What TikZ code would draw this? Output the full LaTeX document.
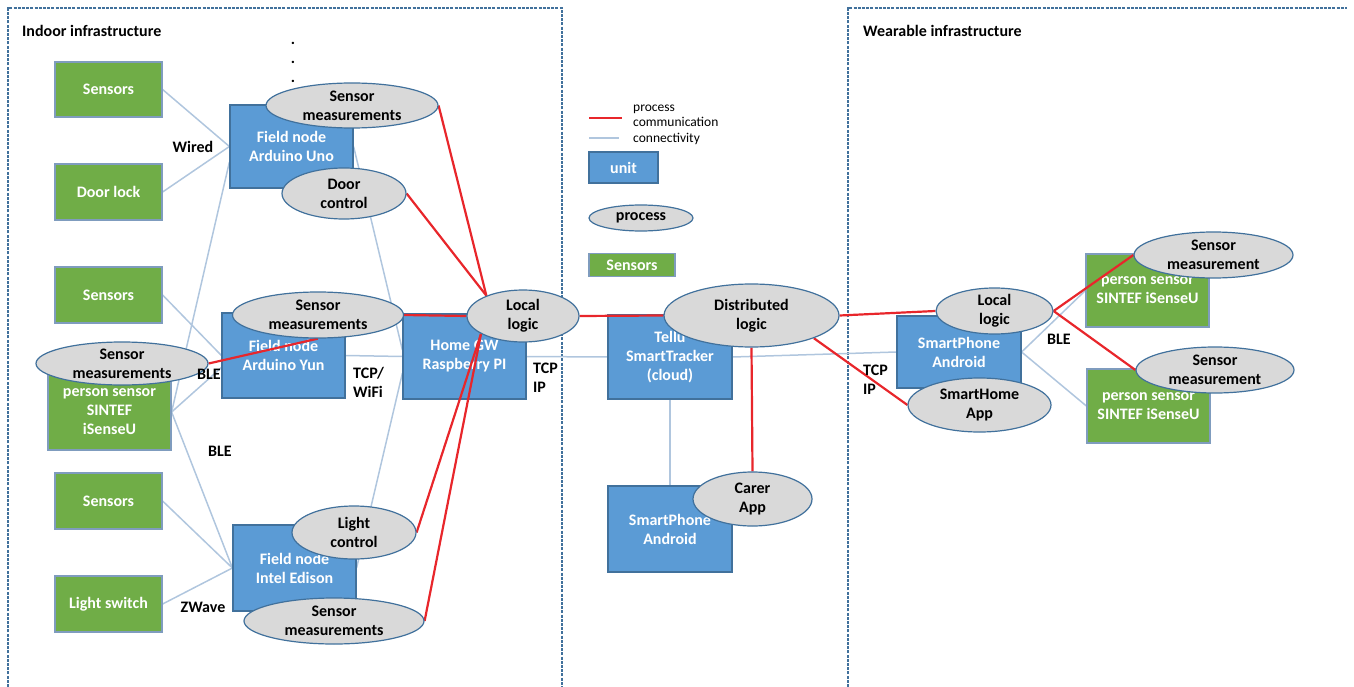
\documentclass[tikz,border=0pt]{standalone}
\usepackage{fontspec}
\setmainfont{Carlito}
\usetikzlibrary{shapes.geometric}
\pgfdeclarelayer{bg}
\pgfdeclarelayer{rlayer}
\pgfdeclarelayer{top}
\pgfsetlayers{bg,main,rlayer,top}
\definecolor{ublue}{HTML}{5B9BD5}
\definecolor{ubdr}{HTML}{41719C}
\definecolor{gbdr}{HTML}{7F9CBE}
\definecolor{sgreen}{HTML}{70AD47}
\definecolor{pgray}{HTML}{D9D9D9}
\definecolor{redc}{HTML}{E8262B}
\definecolor{connc}{HTML}{B0C6DE}
\definecolor{framec}{HTML}{41719C}
\newcommand\myNF{\fontsize{16}{19}\selectfont\bfseries}
\newcommand\myLF{\fontsize{13.5}{15.5}\selectfont}
\tikzset{
  frameline/.style={draw=framec, line width=1.1pt, dash pattern=on 3pt off 1.2pt},
  unitbox/.style={rectangle, draw=ubdr, fill=ublue, line width=1.2pt, text=white, font=\myNF, align=center, inner sep=0pt},
  sensbox/.style={rectangle, draw=gbdr, fill=sgreen, line width=1.2pt, text=white, font=\myNF, align=center, inner sep=0pt},
  proc/.style={ellipse, draw=ubdr, fill=pgray, line width=1.2pt, inner sep=0pt},
  ptext/.style={font=\myNF, align=center, text=black, inner sep=0pt},
  lbl/.style={font=\myNF, align=left, inner sep=0pt, text=black},
  comm/.style={draw=redc, line width=2.2pt},
  connl/.style={draw=connc, line width=1.5pt},
}
\begin{document}
\begin{tikzpicture}[x=1pt,y=-1pt]
\useasboundingbox (0,0) rectangle (1354,687);
% frames
\begin{pgfonlayer}{bg}
\draw[frameline] (8,687) -- (8,8) -- (562,8) -- (562,687);
\draw[frameline] (848,687) -- (848,8) -- (1347,8);
\end{pgfonlayer}
% green sensor boxes
\node[sensbox, minimum width=107pt, minimum height=55pt] (s1) at (108.5,89.5) {Sensors};
\node[sensbox, minimum width=107pt, minimum height=56pt] (door) at (108.5,192) {Door lock};
\node[sensbox, minimum width=107pt, minimum height=56pt] (s2) at (108.5,295) {Sensors};
\node[sensbox, minimum width=123pt, minimum height=76pt] (ps) at (109.5,412) {person sensor\\SINTEF\\iSenseU};
\node[sensbox, minimum width=107pt, minimum height=56pt] (s3) at (108.5,501) {Sensors};
\node[sensbox, minimum width=107pt, minimum height=56pt] (ls) at (108.5,604) {Light switch};
\node[sensbox, minimum width=123pt, minimum height=73pt] (r1) at (1147.5,290.5) {person sensor\\SINTEF iSenseU};
\node[sensbox, minimum width=123pt, minimum height=74pt] (r2) at (1148.5,406) {person sensor\\SINTEF iSenseU};
\node[sensbox, minimum width=86pt, minimum height=23pt] (legsens) at (632,265) {Sensors};
% blue unit boxes
\node[unitbox, minimum width=123pt, minimum height=83pt] (uno) at (291.5,146.5) {Field node\\Arduino Uno};
\node[unitbox, minimum width=123pt, minimum height=85pt] (yun) at (283.5,355.5) {Field node\\Arduino Yun};
\node[unitbox, minimum width=123pt, minimum height=85pt] (gw) at (464.5,356.5) {Home GW\\Raspberry PI};
\node[unitbox, minimum width=123pt, minimum height=86pt] (edison) at (294.5,568) {Field node\\Intel Edison};
\node[unitbox, minimum width=124pt, minimum height=84pt] (tellu) at (670,357) {Tellu\\SmartTracker\\(cloud)};
\node[unitbox, minimum width=124pt, minimum height=86pt] (sp2) at (670,529) {SmartPhone\\Android};
\node[unitbox, minimum width=124pt, minimum height=72pt] (phone) at (959,352) {SmartPhone\\Android};
\node[unitbox, minimum width=69pt, minimum height=31pt] (legunit) at (623.5,167.5) {unit};
% process ellipses
\begin{pgfonlayer}{top}
\node[proc, minimum width=172pt, minimum height=45pt, label={[ptext]center:{Sensor\\measurements}}] (unosm) at (352,105.5) {};
\node[proc, minimum width=124pt, minimum height=51pt, label={[ptext]center:{Door\\control}}] (doorc) at (344,193.5) {};
\node[proc, minimum width=171pt, minimum height=46pt, label={[ptext]center:{Sensor\\measurements}}] (yunsm) at (318,315) {};
\node[proc, minimum width=172pt, minimum height=43pt, label={[ptext]center:{Sensor\\measurements}}] (psm) at (122,363.5) {};
\node[proc, minimum width=112pt, minimum height=52pt, label={[ptext]center:{Local\\logic}}] (llgw) at (523,316) {};
\node[proc, minimum width=124pt, minimum height=53pt, label={[ptext]center:{Light\\control}}] (lightc) at (354,532.5) {};
\node[proc, minimum width=180pt, minimum height=46pt, label={[ptext]center:{Sensor\\measurements}}] (edsm) at (334,621) {};
\node[proc, minimum width=175pt, minimum height=63pt, label={[ptext]center:{Distributed\\logic}}] (dlog) at (751.5,315.5) {};
\node[proc, minimum width=119pt, minimum height=54pt, label={[ptext]center:{Carer\\App}}] (carer) at (752.5,499) {};
\node[proc, minimum width=117pt, minimum height=46pt, label={[ptext]center:{Local\\logic}}] (llph) at (994.5,311) {};
\node[proc, minimum width=143pt, minimum height=54pt, label={[ptext]center:{SmartHome\\App}}] (shapp) at (979.5,405) {};
\node[proc, minimum width=159pt, minimum height=46pt, label={[ptext]center:{Sensor\\measurement}}] (rsm1) at (1213.5,255) {};
\node[proc, minimum width=158pt, minimum height=46pt, label={[ptext]center:{Sensor\\measurement}}] (rsm2) at (1215,370) {};
\node[proc, minimum width=104pt, minimum height=26pt, label={[ptext]center:{process}}] (legproc) at (641,218) {};
% labels
\node[lbl, anchor=west] (t1) at (22,31) {Indoor infrastructure};
\node[lbl, anchor=west] (t2) at (863,31) {Wearable infrastructure};
\node[lbl, align=center] (dots) at (293,62) {.\\.\\.};
\node[lbl] (wired) at (193,147) {Wired};
\node[lbl] (ble1) at (209,374) {BLE};
\node[lbl, anchor=west] (tcpwifi) at (353,382) {TCP/\\WiFi};
\node[lbl, anchor=west] (tcpip1) at (533,378) {TCP\\IP};
\node[lbl] (ble2) at (220,451) {BLE};
\node[lbl] (zwave) at (203,607) {ZWave};
\node[lbl, anchor=west] (tcpip2) at (863,380) {TCP\\IP};
\node[lbl] (ble3) at (1059,339) {BLE};
\node[font=\myLF, align=left, inner sep=0pt, anchor=west] (legtext) at (633,124.5) {process\\communication\\connectivity};
\end{pgfonlayer}
\coordinate (lr1) at (589,118);
\coordinate (lr2) at (622,118);
\coordinate (lg1) at (589,138);
\coordinate (lg2) at (619,138);
% connectivity lines
\begin{pgfonlayer}{bg}
\draw[connl] (s1.east) -- (uno.west);
\draw[connl] (door.east) -- (uno.west);
\draw[connl] (uno.194) -- (ps.east);
\draw[connl] (s2.east) -- (yun.west);
\draw[connl] (ps.east) -- (yun.191);
\draw[connl] (ps.east) -- (edison.west);
\draw[connl] (s3.east) -- (edison.west);
\draw[connl] (ls.east) -- (edison.west);
\draw[connl] (yun.east) -- (gw.west);
\draw[connl] (uno.east) -- (gw.174);
\draw[connl] (edison.east) -- (gw.195);
\draw[connl] (gw.east) -- (tellu.west);
\draw[connl] (tellu.east) -- (phone.west);
\draw[connl] (tellu.south) -- (sp2.north);
\draw[connl] (phone.east) -- (r1.west);
\draw[connl] (phone.east) -- (r2.west);
\draw[connl] (lg1) -- (lg2);
\end{pgfonlayer}
% process communication lines
\begin{pgfonlayer}{rlayer}
\draw[comm] (unosm.east) -- (llgw.151);
\draw[comm] (doorc.east) -- (llgw.151);
\draw[comm] (yunsm.east) -- (llgw.west);
\draw[comm] (psm.east) -- (yunsm.south);
\draw[comm] (llgw.203) -- (lightc.east);
\draw[comm] (llgw.203) -- (edsm.east);
\draw[comm] (llgw.east) -- (dlog.west);
\draw[comm] (dlog.east) -- (llph.west);
\draw[comm] (dlog.-20) -- (shapp.west);
\draw[comm] (dlog.south) -- (carer.north);
\draw[comm] (llph.east) -- (rsm1.west);
\draw[comm] (llph.east) -- (rsm2.west);
\draw[comm] (lr1) -- (lr2);
\end{pgfonlayer}
\end{tikzpicture}
\end{document}
